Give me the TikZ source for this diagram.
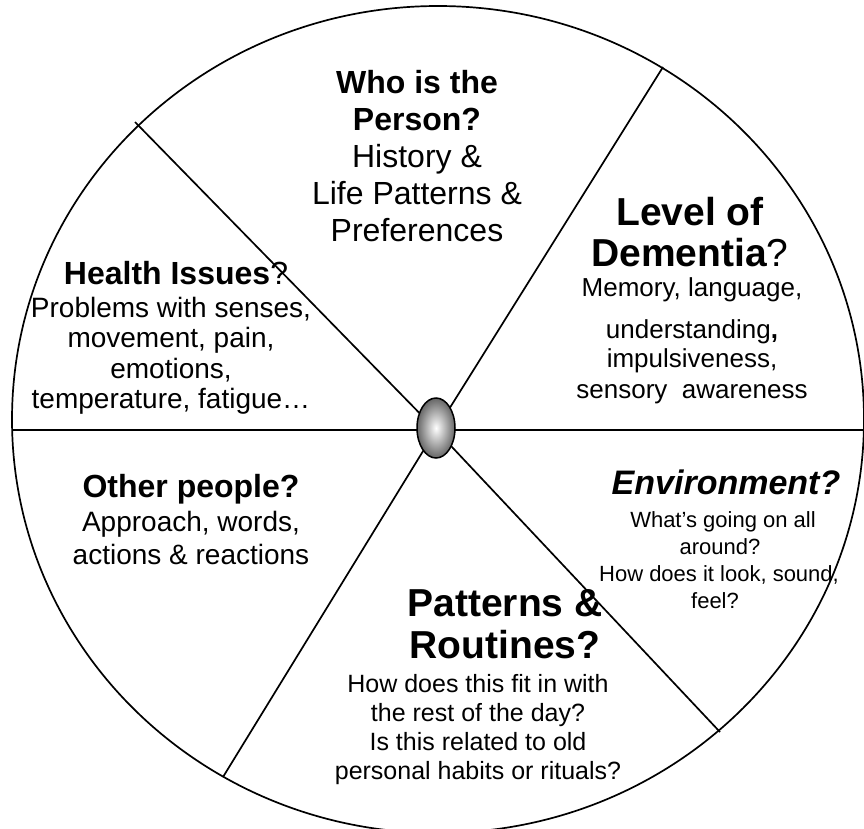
\documentclass[tikz,border=0pt]{standalone}
\usepackage{fontspec}
\setmainfont{Liberation Sans}
\usetikzlibrary{shapes.geometric}
\tikzset{
  rim/.style={line width=1.7pt},
  spoke/.style={line width=1.7pt},
  hub/.style={ellipse, draw, line width=1.5pt, minimum width=38pt, minimum height=60pt, inner sep=0pt,
    inner color=white, outer color=black!60},
  txt/.style={anchor=base, inner sep=0pt},
  hA/.style={txt, font=\fontsize{32}{36}\selectfont\bfseries},
  tA/.style={txt, font=\fontsize{32}{36}\selectfont},
  hB/.style={txt, font=\fontsize{39}{44}\selectfont\bfseries},
  tB/.style={txt, font=\fontsize{26}{30}\selectfont},
  hC/.style={txt, font=\fontsize{32}{36}\selectfont\bfseries},
  tC/.style={txt, font=\fontsize{28}{32}\selectfont},
  hE/.style={txt, font=\fontsize{34}{38}\selectfont\bfseries\itshape},
  tE/.style={txt, font=\fontsize{22}{26}\selectfont},
  tF/.style={txt, font=\fontsize{25}{29}\selectfont},
}
\begin{document}
\begin{tikzpicture}[x=1pt, y=-1pt]
\useasboundingbox (0,0) rectangle (864,828);
\begin{scope}
\clip (0,0) rectangle (864,828);
\draw[rim] (438,419.5) ellipse [x radius=426, y radius=413.5];
\end{scope}
% spoke end points
\coordinate (c) at (436,430);
\coordinate (eUL) at (135,122);
\coordinate (eUR) at (663,67);
\coordinate (eL) at (12,430);
\coordinate (eR) at (864,430);
\coordinate (eLL) at (223,777);
\coordinate (eLR) at (720,732);
\foreach \e in {eUL,eUR,eL,eR,eLL,eLR} \draw[spoke] (c) -- (\e);
\node[hub] (hubnode) at (436,428) {};

% top
\node[hA] (t1) at (417,93) {Who is the};
\node[hA] (t2) at (417,130) {Person?};
\node[tA] (t3) at (417,167) {History \&};
\node[tA] (t4) at (417,204) {Life Patterns \&};
\node[tA] (t5) at (417,241) {Preferences};

% right
\node[hB] (r1) at (690,225) {Level of};
\node[hB] (r2) at (690,266) {Dementia\mdseries?};
\node[tB] (r3) at (692,296) {Memory, language,};
\node[tB] (r4) at (692,338) {understanding\textbf{,}};
\node[tB] (r5) at (692,367) {impulsiveness,};
\node[tB] (r6) at (692,398) {sensory \ awareness};

% left
\node[hC] (l1) at (176,284) {Health Issues\mdseries?};
\node[tC] (l2) at (171,317) {Problems with senses,};
\node[tC] (l3) at (171,347) {movement, pain,};
\node[tC] (l4) at (171,378) {emotions,};
\node[tC] (l5) at (171,408) {temperature, fatigue…};

% lower left
\node[hC] (o1) at (191,497) {Other people?};
\node[tC] (o2) at (191,531) {Approach, words,};
\node[tC] (o3) at (191,564) {actions \& reactions};

% lower right
\node[hE] (v1) at (726,494) {Environment?};
\node[tE] (v2) at (723,527) {What’s going on all};
\node[tE] (v3) at (720,554) {around?};
\node[tE] (v4) at (719,581) {How does it look, sound,};
\node[tE] (v5) at (715,608) {feel?};

% bottom
\node[hB] (b1) at (505,616) {Patterns \&};
\node[hB] (b2) at (505,658) {Routines?};
\node[tF] (b3) at (478,692) {How does this fit in with};
\node[tF] (b4) at (478,721) {the rest of the day?};
\node[tF] (b5) at (478,750) {Is this related to old};
\node[tF] (b6) at (478,779) {personal habits or rituals?};
\end{tikzpicture}
\end{document}
